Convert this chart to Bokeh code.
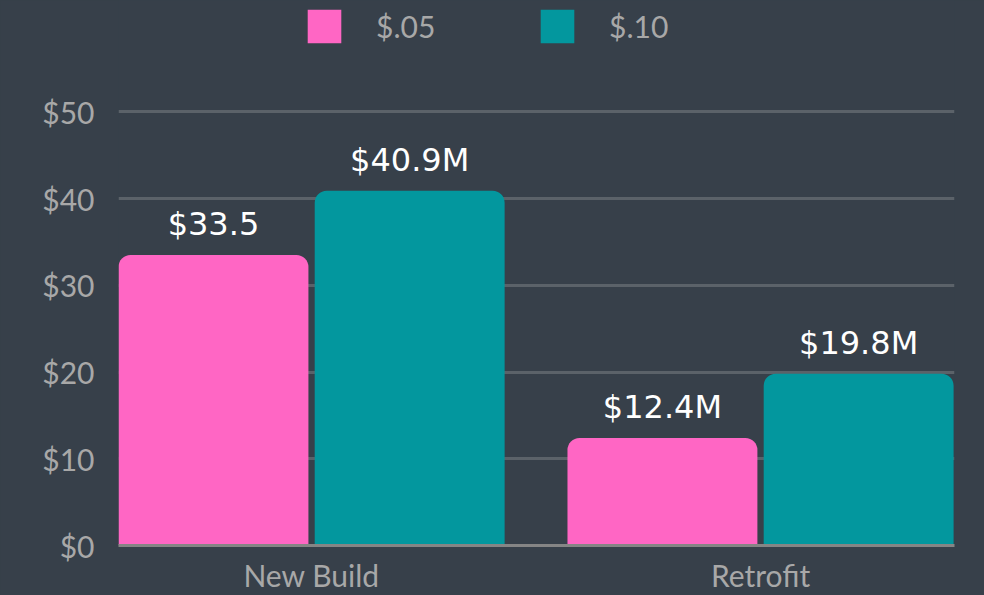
from bokeh.plotting import figure
from bokeh.models import ColumnDataSource, Range1d, Legend, LegendItem, FixedTicker
from bokeh.core.properties import value
from bokeh.embed import file_html
from bokeh.resources import INLINE

categories = ["New Build", "Retrofit"]
series_names = ["$.05", "$.10"]
values_05 = [33.5, 12.4]
values_10 = [40.9, 19.8]
labels_05 = ["$33.5", "$12.4M"]
labels_10 = ["$40.9M", "$19.8M"]
y_ticks = [0, 10, 20, 30, 40, 50]
y_tick_labels = ["$0", "$10", "$20", "$30", "$40", "$50"]

BG = "#37404a"
PINK = "#ff66c4"
TEAL = "#03979e"
GRID = "#5b6269"
TICK = "#a8a8a8"

xs = list(range(len(categories)))
src05 = ColumnDataSource(dict(x=[i - 0.2185 for i in xs], top=values_05, label=labels_05))
src10 = ColumnDataSource(dict(x=[i + 0.2185 for i in xs], top=values_10, label=labels_10))

p = figure(width=984, height=595, output_backend="svg", toolbar_location=None,
           x_range=Range1d(-0.43, 1.432), y_range=Range1d(0, 62.84),
           min_border_left=118, min_border_right=30, min_border_top=0, min_border_bottom=47,
           background_fill_color=BG, border_fill_color=BG)
p.outline_line_color = None

r1 = p.vbar(x="x", top="top", width=0.423, source=src05, fill_color=PINK, line_color=None,
            border_radius=(12, 12, 0, 0))
r2 = p.vbar(x="x", top="top", width=0.423, source=src10, fill_color=TEAL, line_color=None,
            border_radius=(12, 12, 0, 0))

for s in (src05, src10):
    p.text(x="x", y="top", text="label", source=s, text_align="center", text_baseline="bottom",
           y_offset=-12, text_color="white", text_font=value("DejaVu Sans"),
           text_font_size="32px")

# axes
p.xaxis.ticker = FixedTicker(ticks=xs)
p.xaxis.major_label_overrides = {i: c for i, c in enumerate(categories)}
p.xaxis.major_label_text_font = "Lato"
p.xaxis.major_label_text_font_size = "30px"
p.xaxis.major_label_text_color = TICK
p.xaxis.major_label_standoff = 11
p.xaxis.axis_line_color = "#858585"
p.xaxis.axis_line_width = 3
p.xaxis.major_tick_line_color = None
p.xaxis.minor_tick_line_color = None
p.xaxis.major_tick_out = 0
p.xaxis.major_tick_in = 0

p.yaxis.ticker = FixedTicker(ticks=y_ticks)
p.yaxis.major_label_overrides = {t: l for t, l in zip(y_ticks, y_tick_labels)}
p.yaxis.major_label_text_font = "Lato"
p.yaxis.major_label_text_font_size = "30px"
p.yaxis.major_label_text_color = TICK
p.yaxis.major_label_standoff = 24
p.yaxis.axis_line_color = None
p.yaxis.major_tick_line_color = None
p.yaxis.minor_tick_line_color = None
p.yaxis.major_tick_out = 0
p.yaxis.major_tick_in = 0

p.xgrid.grid_line_color = None
p.ygrid.grid_line_color = GRID
p.ygrid.grid_line_width = 3

legend = Legend(items=[LegendItem(label=series_names[0], renderers=[r1]),
                       LegendItem(label=series_names[1], renderers=[r2])],
                orientation="horizontal", location=(185, 498),
                glyph_width=42, glyph_height=42, label_standoff=31, label_width=62,
                spacing=98, padding=0, margin=0,
                label_text_font="Lato", label_text_font_size="30px", label_text_color=TICK,
                background_fill_alpha=0, border_line_alpha=0)
p.add_layout(legend, "center")

html = file_html(p, INLINE)
html = html.replace("</head>", "<style>html, body { background: %s; }</style>\n</head>" % BG, 1)
open("out.html", "w").write(html)
